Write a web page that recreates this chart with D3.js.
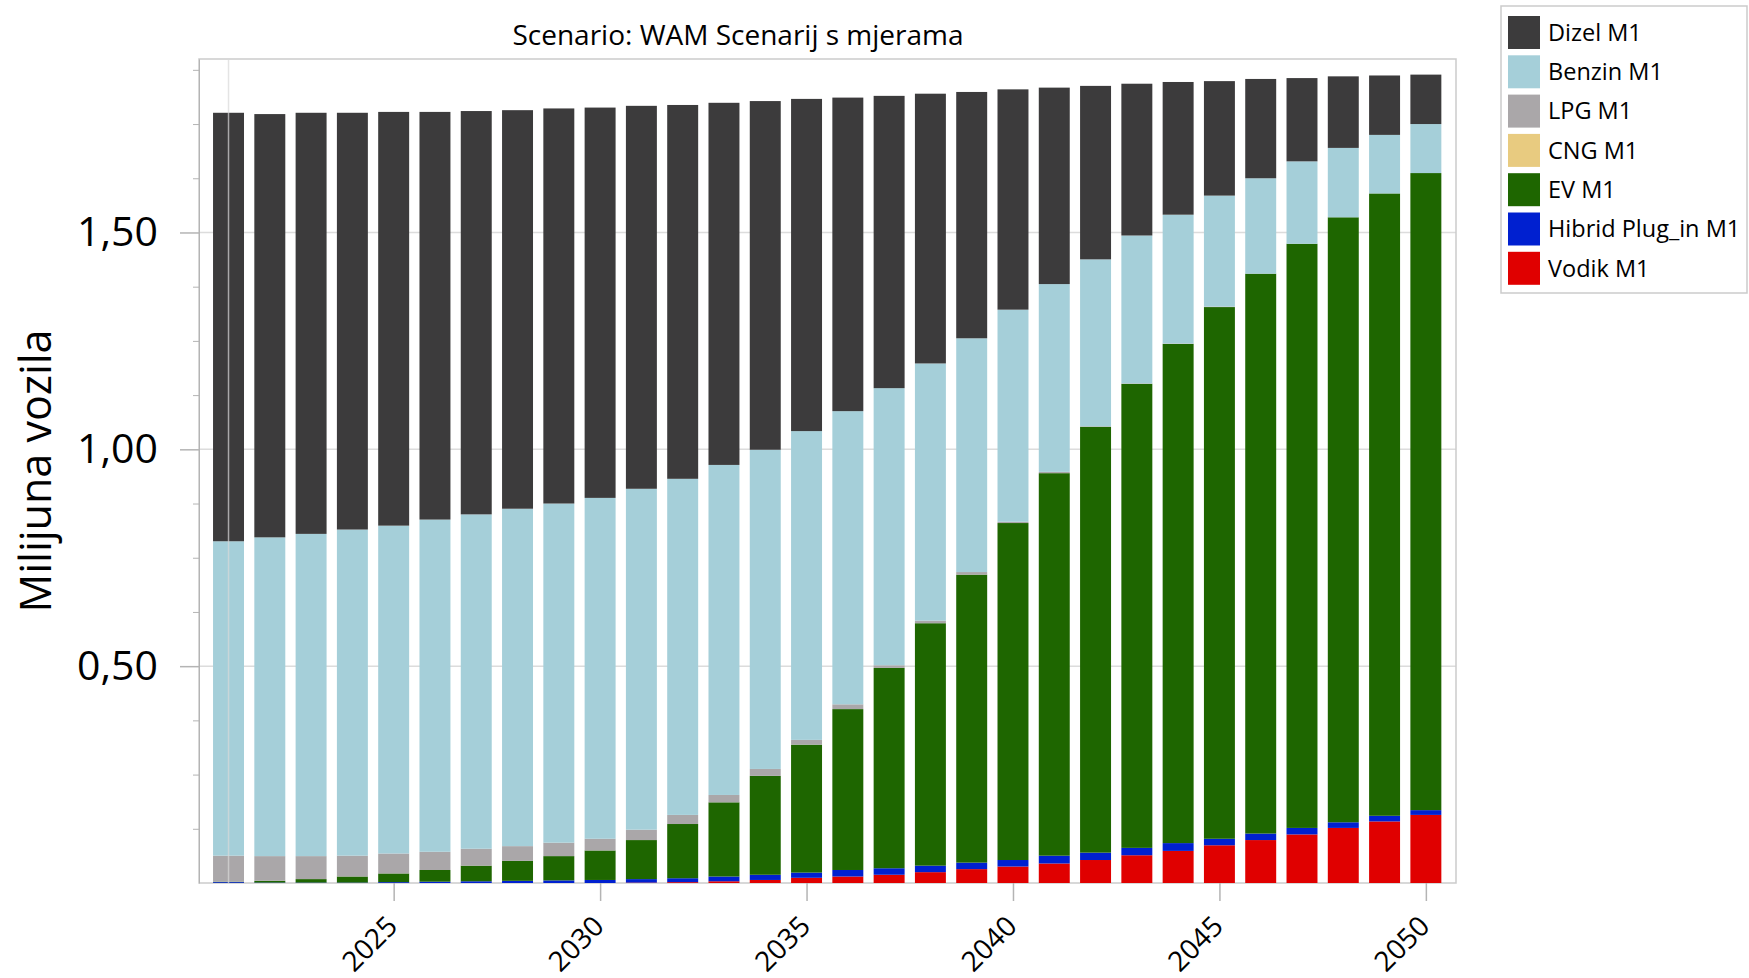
<!DOCTYPE html>
<meta charset="utf-8">
<style>
body { margin: 0; background: #fff; }
text { font-family: 'Open Sans', 'Noto Sans', sans-serif; fill: #000; }
.domain { stroke: #b4b4b4; }
.tick line { stroke: #b4b4b4; }
</style>
<body>
<script src="https://cdn.jsdelivr.net/npm/d3@7"></script>
<script>

// data (milijuna vozila)
var years = d3.range(2021, 2051);
var dizel  = [0.988,0.976,0.971,0.961,0.954,0.940,0.930,0.919,0.911,0.900,0.883,0.862,0.835,0.804,0.766,0.723,0.674,0.622,0.568,0.508,0.453,0.400,0.350,0.306,0.264,0.229,0.192,0.165,0.137,0.114];
var benzin = [0.725,0.735,0.743,0.752,0.756,0.766,0.771,0.778,0.782,0.786,0.786,0.775,0.761,0.736,0.712,0.676,0.639,0.593,0.539,0.489,0.433,0.385,0.341,0.297,0.256,0.220,0.190,0.160,0.135,0.113];
var lpg    = [0.060,0.057,0.053,0.048,0.046,0.042,0.039,0.034,0.031,0.027,0.024,0.021,0.017,0.016,0.011,0.011,0.006,0.006,0.006,0.003,0.003,0.001,0.001,0.001,0.001,0,0,0,0,0];
var cng    = [0,0,0,0,0,0,0,0,0,0,0,0,0,0,0,0,0,0,0,0,0,0,0,0,0,0,0,0,0,0];
var ev     = [0.001,0.004,0.008,0.014,0.020,0.027,0.036,0.046,0.056,0.068,0.090,0.125,0.171,0.228,0.295,0.371,0.462,0.559,0.664,0.777,0.882,0.982,1.070,1.151,1.226,1.291,1.347,1.395,1.435,1.469];
var hibrid = [0.002,0.001,0.001,0.001,0.002,0.003,0.004,0.005,0.006,0.007,0.008,0.009,0.011,0.012,0.012,0.015,0.015,0.015,0.015,0.015,0.018,0.017,0.017,0.018,0.015,0.015,0.015,0.013,0.013,0.011];
var vodik  = [0,0,0,0,0,0,0,0,0,0,0.001,0.002,0.004,0.007,0.012,0.015,0.019,0.025,0.032,0.038,0.045,0.053,0.064,0.074,0.087,0.099,0.112,0.127,0.142,0.157];

var seriesNames  = ["Dizel M1", "Benzin M1", "LPG M1", "CNG M1", "EV M1", "Hibrid Plug_in M1", "Vodik M1"];
var seriesColors = ["#3c3b3c", "#a5cfd9", "#aaa7a9", "#e8cb80", "#1e6600", "#0020d0", "#e00000"];
var seriesValues = [dizel, benzin, lpg, cng, ev, hibrid, vodik];
var xTicks = [2025, 2030, 2035, 2040, 2045, 2050];
var yMajor = [0.5, 1.0, 1.5];

var W = 1749, H = 978;
var plot = {left: 199, right: 1456, top: 59, bottom: 883};

var svg = d3.select("body").append("svg")
    .attr("width", W)
    .attr("height", H);

// build rows for the stack
var rows = years.map(function(yr, i) {
  var r = {year: yr};
  seriesNames.forEach(function(n, k) { r[n] = seriesValues[k][i]; });
  return r;
});
// bottom to top: Vodik first, Dizel last
var stackKeys = seriesNames.slice().reverse();
var stacked = d3.stack().keys(stackKeys)(rows);
var color = d3.scaleOrdinal().domain(seriesNames).range(seriesColors);

var x = d3.scaleLinear()
    .domain([2020.285, 2050.73])
    .range([plot.left, plot.right]);
var y = d3.scaleLinear()
    .domain([0, 1.9])
    .range([plot.bottom, plot.top]);
var step = x(2022) - x(2021);
var barW = step * 0.75;

// gridlines
svg.append("g")
    .selectAll("line").data(yMajor).enter().append("line")
    .attr("x1", plot.left).attr("x2", plot.right)
    .attr("y1", function(d) { return y(d); })
    .attr("y2", function(d) { return y(d); })
    .attr("stroke", "#dcdcdc").attr("stroke-width", 1.5);

// plot frame
svg.append("rect")
    .attr("x", plot.left).attr("y", plot.top)
    .attr("width", plot.right - plot.left)
    .attr("height", plot.bottom - plot.top)
    .attr("fill", "none").attr("stroke", "#cbcbcb").attr("stroke-width", 1.5);

// bars
svg.append("g").selectAll("g")
    .data(stacked).enter().append("g")
    .attr("fill", function(d) { return color(d.key); })
  .selectAll("rect")
    .data(function(d) { return d; }).enter().append("rect")
    .attr("x", function(d) { return x(d.data.year) - barW / 2; })
    .attr("width", barW)
    .attr("y", function(d) { return y(d[1]); })
    .attr("height", function(d) { return y(d[0]) - y(d[1]); });

// vertical gridline at the first year (drawn over the bars, as in the source)
svg.append("line")
    .attr("x1", x(2021)).attr("x2", x(2021))
    .attr("y1", plot.top).attr("y2", plot.bottom)
    .attr("stroke", "#d8d8d8").attr("stroke-opacity", 0.7).attr("stroke-width", 1.5);

// y axis
var hr = d3.formatLocale({decimal: ",", thousands: ".", grouping: [3], currency: ["", ""]});
var yAxis = svg.append("g")
    .attr("transform", "translate(" + plot.left + ",0)")
    .call(d3.axisLeft(y).tickValues(yMajor).tickSize(19).tickSizeOuter(0).tickPadding(22).tickFormat(hr.format(".2f")));
yAxis.selectAll("text").style("font-size", "41px");
yAxis.selectAll(".tick line").attr("stroke-width", 1.5);

var minor = d3.range(1, 16).map(function(i) { return i * 0.125; })
    .filter(function(v) { return v % 0.5 !== 0; });
svg.append("g")
    .attr("transform", "translate(" + plot.left + ",0)")
    .call(d3.axisLeft(y).tickValues(minor).tickSize(6).tickFormat(""))
    .select(".domain").remove();

// x axis
var xAxis = svg.append("g")
    .attr("transform", "translate(0," + plot.bottom + ")")
    .call(d3.axisBottom(x).tickValues(xTicks).tickSize(18).tickSizeOuter(0).tickFormat(d3.format("d")));
xAxis.select(".domain").remove();
xAxis.selectAll(".tick line").attr("stroke-width", 1.5);
xAxis.selectAll("text")
    .style("font-size", "28px")
    .style("text-anchor", "end")
    .attr("x", 0).attr("y", 0)
    .attr("dy", null)
    .attr("transform", "translate(5,45) rotate(-45)");

// axis title
svg.append("text")
    .attr("transform", "translate(36," + ((plot.top + plot.bottom) / 2) + ") rotate(-90)")
    .attr("text-anchor", "middle")
    .attr("dy", "0.35em")
    .style("font-size", "43px")
    .text("Milijuna vozila");

// chart title
svg.append("text")
    .attr("x", 738).attr("y", 45)
    .attr("text-anchor", "middle")
    .style("font-size", "28px")
    .text("Scenario: WAM Scenarij s mjerama");

// legend
var legend = svg.append("g").attr("transform", "translate(1501,6)");
legend.append("rect")
    .attr("width", 246).attr("height", 287)
    .attr("fill", "#fff").attr("stroke", "#cbcbcb").attr("stroke-width", 1.5);
var item = legend.selectAll(".item")
    .data(seriesNames).enter().append("g")
    .attr("class", "item")
    .attr("transform", function(d, i) { return "translate(7," + (10 + i * 39.3) + ")"; });
item.append("rect")
    .attr("width", 32).attr("height", 33)
    .attr("fill", function(d) { return color(d); });
item.append("text")
    .attr("x", 40).attr("y", 16.5)
    .attr("dy", "0.35em")
    .style("font-size", "23.5px")
    .text(function(d) { return d; });

</script>
</body>
